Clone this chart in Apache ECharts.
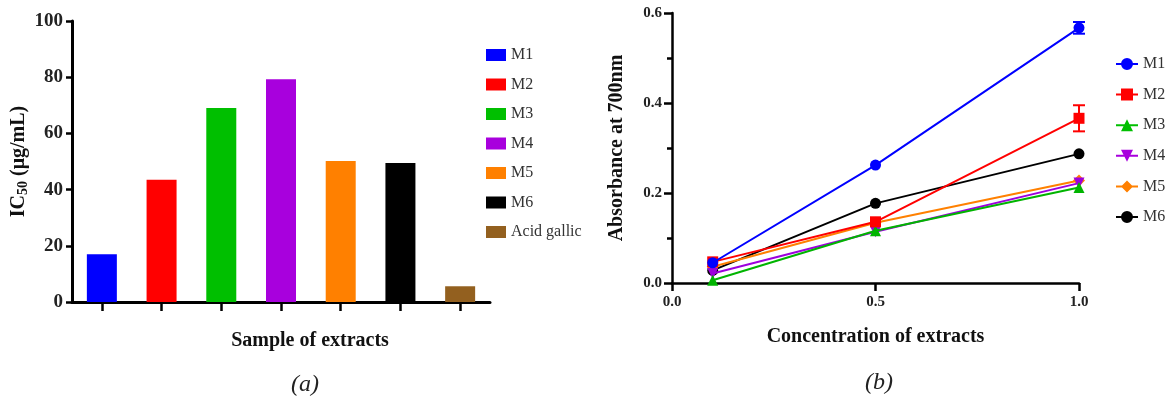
<!DOCTYPE html>
<html>
<head>
<meta charset="utf-8">
<script src="https://cdn.jsdelivr.net/npm/echarts@6/dist/echarts.min.js"></script>
<style>
  html, body { margin: 0; padding: 0; background: #fff; }
  #chart { width: 1173px; height: 398px; }
</style>
</head>
<body>
<div id="chart"></div>
<script>
// panel (a): IC50 per extract
const samples = ["M1", "M2", "M3", "M4", "M5", "M6", "Acid gallic"]
const ic50 = [17, 43.5, 69, 79.3, 50.2, 49.5, 5.6]
const barColors = ["#0000ff", "#ff0000", "#00bf00", "#a800dd", "#ff8000", "#000000", "#93601f"]
const ic50Ticks = [0, 20, 40, 60, 80, 100]

// panel (b): absorbance vs concentration
const conc = [0.1, 0.5, 1.0]
const m1 = [0.045, 0.262, 0.567]
const m2 = [0.047, 0.136, 0.366]
const m3 = [0.006, 0.116, 0.212]
const m4 = [0.021, 0.114, 0.222]
const m5 = [0.036, 0.134, 0.228]
const m6 = [0.028, 0.177, 0.287]
const m1Err = [0, 0, 0.013]
const m2Err = [0, 0, 0.029]
const lineNames = ["M1", "M2", "M3", "M4", "M5", "M6"]
const lineColors = ["#0000ff", "#ff0000", "#00b400", "#9d00dd", "#ff8000", "#000000"]
const lineSymbols = ["circle", "rect", "triangle", "path://M0,0 L10,0 L5,9 Z", "diamond", "circle"]

const serif = "'Liberation Serif', 'DejaVu Serif', serif"

// legend icons: a short line with the marker on it (22 x 12 box)
const bar = "M0,5 L22,5 L22,7 L0,7 Z "
const legendIcons = [
  "path://" + bar + "M5,6 A6,6 0 1,1 17,6 A6,6 0 1,1 5,6 Z",
  "path://" + bar + "M5,0 L17,0 L17,12 L5,12 Z",
  "path://" + bar + "M11,0 L17,12 L5,12 Z",
  "path://" + bar + "M5,0 L17,0 L11,12 Z",
  "path://" + bar + "M11,0 L17,6 L11,12 L5,6 Z",
  "path://" + bar + "M5,6 A6,6 0 1,1 17,6 A6,6 0 1,1 5,6 Z"
]

const chart = echarts.init(document.getElementById("chart"))

const barSeries = samples.map((name, i) => ({
  name: name,
  type: "bar",
  stack: "ic50",
  xAxisIndex: 0,
  yAxisIndex: 0,
  barWidth: 30,
  data: ic50.map((v, j) => (j === i ? v : null)),
  itemStyle: { color: barColors[i] }
}))

const lineData = [m1, m2, m3, m4, m5, m6]
const lineSeries = lineNames.map((name, i) => ({
  name: name,
  type: "line",
  xAxisIndex: 1,
  yAxisIndex: 1,
  z: 10 - i,
  data: conc.map((c, j) => [c, lineData[i][j]]),
  symbol: lineSymbols[i],
  symbolSize: i === 4 ? 12 : 11,
  lineStyle: { color: lineColors[i], width: 2 },
  itemStyle: { color: lineColors[i] }
}))

function errorSeries(vals, errs, color) {
  const data = []
  conc.forEach((c, j) => {
    if (errs[j] > 0) data.push([c, vals[j] - errs[j], vals[j] + errs[j]])
  })
  return {
    type: "custom",
    xAxisIndex: 1,
    yAxisIndex: 1,
    z: 12,
    silent: true,
    data: data,
    renderItem: (params, api) => {
      const lo = api.coord([api.value(0), api.value(1)])
      const hi = api.coord([api.value(0), api.value(2)])
      const w = 6
      const st = { stroke: color, lineWidth: 2 }
      return {
        type: "group",
        children: [
          { type: "line", shape: { x1: lo[0], y1: lo[1], x2: hi[0], y2: hi[1] }, style: st },
          { type: "line", shape: { x1: lo[0] - w, y1: lo[1], x2: lo[0] + w, y2: lo[1] }, style: st },
          { type: "line", shape: { x1: hi[0] - w, y1: hi[1], x2: hi[0] + w, y2: hi[1] }, style: st }
        ]
      }
    }
  }
}

chart.setOption({
  animation: false,
  textStyle: { fontFamily: serif },
  title: [
    {
      text: "(a)",
      left: 300,
      top: 368,
      textAlign: "center",
      textStyle: { fontFamily: serif, fontStyle: "italic", fontWeight: "normal", fontSize: 24, color: "#222" }
    },
    {
      text: "(b)",
      left: 874,
      top: 366,
      textAlign: "center",
      textStyle: { fontFamily: serif, fontStyle: "italic", fontWeight: "normal", fontSize: 24, color: "#222" }
    }
  ],
  legend: [
    {
      data: samples,
      orient: "vertical",
      left: 481,
      top: 42,
      icon: "rect",
      itemWidth: 20,
      itemHeight: 12,
      itemGap: 13.5,
      textStyle: { fontFamily: serif, fontSize: 16, color: "#333" }
    },
    {
      data: lineNames.map((n, i) => ({ name: n, icon: legendIcons[i] })),
      orient: "vertical",
      left: 1111,
      top: 51,
      itemWidth: 22,
      itemHeight: 12,
      itemGap: 14.6,
      textStyle: { fontFamily: serif, fontSize: 16, color: "#333" }
    }
  ],
  grid: [
    { left: 72, top: 21, width: 418, height: 281 },
    { left: 672, top: 13, width: 407, height: 270 }
  ],
  xAxis: [
    {
      type: "category",
      gridIndex: 0,
      data: samples,
      name: "Sample of extracts",
      nameLocation: "middle",
      nameGap: 29,
      nameTextStyle: { fontFamily: serif, fontWeight: "bold", fontSize: 20, color: "#111", padding: [0, 0, 0, 58] },
      axisLine: { lineStyle: { color: "#000", width: 3 } },
      axisTick: { show: true, interval: 0, alignWithLabel: true, length: 9, lineStyle: { color: "#000", width: 2.5 } },
      axisLabel: { show: false, interval: 0 }
    },
    {
      type: "value",
      gridIndex: 1,
      min: 0,
      max: 1,
      interval: 0.5,
      name: "Concentration of extracts",
      nameLocation: "middle",
      nameGap: 44,
      nameTextStyle: { fontFamily: serif, fontWeight: "bold", fontSize: 20, color: "#111" },
      axisLine: { onZero: false, lineStyle: { color: "#000", width: 2.5 } },
      axisTick: { show: true, length: 8, lineStyle: { color: "#000", width: 2.5 } },
      axisLabel: { margin: 12, fontFamily: serif, fontWeight: "bold", fontSize: 15, color: "#222", formatter: v => v.toFixed(1) },
      splitLine: { show: false }
    }
  ],
  yAxis: [
    {
      type: "value",
      gridIndex: 0,
      min: ic50Ticks[0],
      max: ic50Ticks[ic50Ticks.length - 1],
      interval: 20,
      name: "{m|IC}{s|50}{m| (μg/mL)}",
      nameLocation: "middle",
      nameGap: 34,
      nameTextStyle: {
        rich: {
          m: { fontFamily: serif, fontWeight: "bold", fontSize: 20, color: "#111" },
          s: { fontFamily: serif, fontWeight: "bold", fontSize: 14, color: "#111", verticalAlign: "bottom", padding: [9, 0, 0, 0] }
        }
      },
      axisLine: { show: true, lineStyle: { color: "#000", width: 3 } },
      axisTick: { show: true, length: 6, lineStyle: { color: "#000", width: 2.5 } },
      axisLabel: { margin: 9, fontFamily: serif, fontWeight: "bold", fontSize: 19, color: "#222" },
      splitLine: { show: false }
    },
    {
      type: "value",
      gridIndex: 1,
      min: 0,
      max: 0.6,
      interval: 0.2,
      name: "Absorbance at 700nm",
      nameLocation: "middle",
      nameGap: 45,
      nameTextStyle: { fontFamily: serif, fontWeight: "bold", fontSize: 20, color: "#111" },
      axisLine: { show: true, onZero: false, lineStyle: { color: "#000", width: 2.5 } },
      axisTick: { show: true, length: 8, lineStyle: { color: "#000", width: 2.5 } },
      minorTick: { show: true, splitNumber: 2, length: 5, lineStyle: { color: "#000", width: 2.5 } },
      axisLabel: { margin: 10, fontFamily: serif, fontWeight: "bold", fontSize: 15, color: "#222", formatter: v => v.toFixed(1) },
      splitLine: { show: false }
    }
  ],
  series: [
    ...barSeries,
    ...lineSeries,
    errorSeries(m1, m1Err, lineColors[0]),
    errorSeries(m2, m2Err, lineColors[1])
  ]
})
</script>
</body>
</html>
